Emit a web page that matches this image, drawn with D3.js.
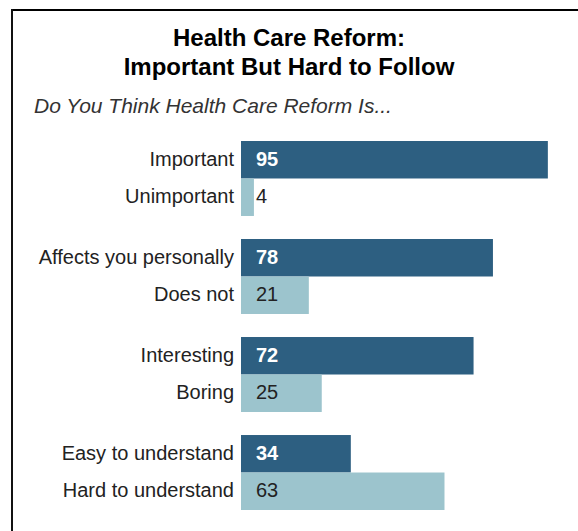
<!DOCTYPE html>
<html>
<head>
<meta charset="utf-8">
<script src="https://cdn.jsdelivr.net/npm/d3@7"></script>
<style>
  body { margin: 0; background: #fff; }
  text { font-family: Arial, "Liberation Sans", sans-serif; }
</style>
</head>
<body>
<div id="app"></div>
<script>
const groups = ['g1', 'g2', 'g3', 'g4']
const topLabels = ['Important', 'Affects you personally', 'Interesting', 'Easy to understand']
const bottomLabels = ['Unimportant', 'Does not', 'Boring', 'Hard to understand']
const topValues = [95, 78, 72, 34]
const bottomValues = [4, 21, 25, 63]

const width = 578
const height = 531

const svg = d3.select('#app')
  .append('svg')
  .attr('width', width)
  .attr('height', height)

// frame: only top and left lines
svg.append('line')
  .attr('x1', 11).attr('x2', width)
  .attr('y1', 10).attr('y2', 10)
  .attr('stroke', '#000').attr('stroke-width', 2)
svg.append('line')
  .attr('x1', 12).attr('x2', 12)
  .attr('y1', 9).attr('y2', height)
  .attr('stroke', '#111').attr('stroke-width', 2)

svg.append('text')
  .attr('x', 289).attr('y', 46)
  .attr('text-anchor', 'middle')
  .attr('font-size', 24).attr('font-weight', 'bold')
  .text('Health Care Reform:')
svg.append('text')
  .attr('x', 289).attr('y', 75)
  .attr('text-anchor', 'middle')
  .attr('font-size', 24).attr('font-weight', 'bold')
  .text('Important But Hard to Follow')

svg.append('text')
  .attr('x', 34).attr('y', 113)
  .attr('font-size', 21).attr('font-style', 'italic')
  .attr('fill', '#333')
  .text('Do You Think Health Care Reform Is...')

const rows = groups.map((g, i) => [
  { group: g, pos: 'top', label: topLabels[i], value: topValues[i] },
  { group: g, pos: 'bottom', label: bottomLabels[i], value: bottomValues[i] }
]).flat()

const y = d3.scaleBand()
  .domain(groups)
  .range([141, 510])
  .paddingInner(0.235)

const yInner = d3.scaleBand()
  .domain(['top', 'bottom'])
  .range([0, y.bandwidth()])

const x = d3.scaleLinear()
  .domain([0, 100])
  .range([241, 564])

const rowY = d => y(d.group) + yInner(d.pos)

svg.selectAll('rect.bar')
  .data(rows)
  .enter()
  .append('rect')
  .attr('class', 'bar')
  .attr('x', x(0))
  .attr('y', d => rowY(d))
  .attr('width', d => x(d.value) - x(0))
  .attr('height', yInner.bandwidth())
  .attr('fill', d => d.pos === 'top' ? '#2d5f81' : '#9cc4cd')

svg.selectAll('text.cat')
  .data(rows)
  .enter()
  .append('text')
  .attr('class', 'cat')
  .attr('x', x(0) - 7)
  .attr('y', d => rowY(d) + yInner.bandwidth() / 2 + 6)
  .attr('text-anchor', 'end')
  .attr('font-size', 20)
  .attr('fill', '#222')
  .text(d => d.label)

svg.selectAll('text.val')
  .data(rows)
  .enter()
  .append('text')
  .attr('class', 'val')
  .attr('x', x(0) + 15)
  .attr('y', d => rowY(d) + yInner.bandwidth() / 2 + 6)
  .attr('font-size', 20)
  .attr('font-weight', d => d.pos === 'top' ? 'bold' : 'normal')
  .attr('fill', d => d.pos === 'top' ? '#fff' : '#222')
  .text(d => d.value)
</script>
</body>
</html>
